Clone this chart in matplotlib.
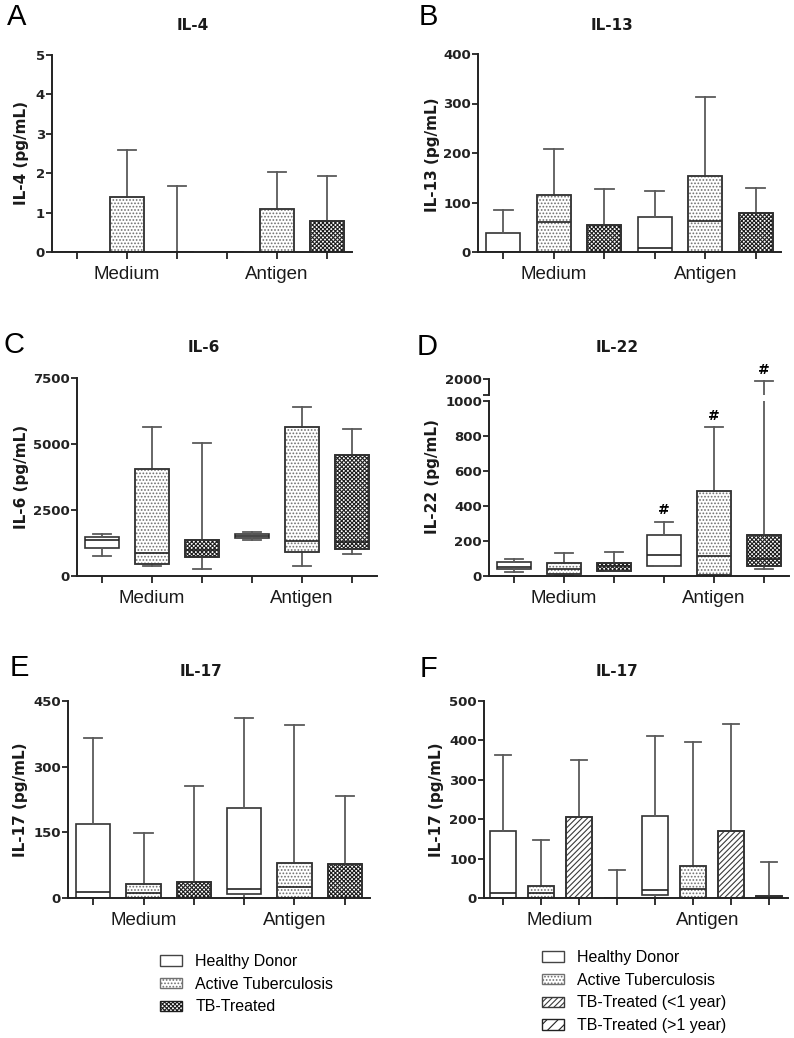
import numpy as np
import matplotlib
matplotlib.use("Agg")
import matplotlib.pyplot as plt
from matplotlib.patches import Patch, PathPatch

W, H = 794, 1038

conditions = ["Medium", "Antigen"]
groups = ["Healthy Donor", "Active Tuberculosis", "TB-Treated"]
groups_f = ["Healthy Donor", "Active Tuberculosis",
            "TB-Treated (<1 year)", "TB-Treated (>1 year)"]

# each row: min, q1, median, q3, max  (HD, ATB, TBT for Medium, then Antigen)
il4 = [[0, 0, 0, 0, 0], [0, 0, 0, 1.4, 2.58], [0, 0, 0, 0, 1.68],
       [0, 0, 0, 0, 0], [0, 0, 0, 1.1, 2.03], [0, 0, 0, 0.78, 1.93]]
il13 = [[0, 0, 0, 38, 84], [0, 0, 60, 115, 209], [0, 0, 0, 55, 128],
        [0, 0, 8, 71, 123], [0, 0, 63, 154, 313], [0, 0, 0, 78, 129]]
il6 = [[760, 1050, 1380, 1490, 1580], [380, 470, 885, 4070, 5650],
       [280, 720, 1000, 1370, 5050],
       [1380, 1450, 1530, 1600, 1680], [380, 910, 1320, 5630, 6410],
       [850, 1040, 1300, 4600, 5580]]
il22 = [[25, 38, 53, 82, 95], [4, 10, 42, 76, 129], [30, 30, 59, 76, 139],
        [57, 59, 118, 232, 311], [4, 6, 116, 486, 849],
        [42, 55, 100, 232, 1850]]
il22_sig = [False, False, False, True, True, True]
il17 = [[0, 0, 13, 168, 365], [0, 0, 11, 31, 148], [0, 0, 0, 36, 256],
        [0, 9, 21, 206, 411], [0, 0, 24, 81, 395], [0, 0, 0, 78, 233]]
il17_f = [[0, 0, 13, 170, 364], [0, 0, 12, 31, 148], [0, 0, 0, 205, 350],
          [0, 0, 0, 0, 71],
          [0, 8, 21, 207, 411], [0, 0, 24, 82, 396], [0, 0, 0, 170, 441],
          [0, 0, 3, 4, 92]]

# hatch, hatch colour for each group
HD = (None, "#444444")
ATB = (".....", "#707070")
TBT = ("xxxxxxxx", "#1e1e1e")
TBT1 = ("//////", "#3a3a3a")
TBT2 = ("///", "#222222")

plt.rcParams["font.family"] = "DejaVu Sans"
plt.rcParams["hatch.linewidth"] = 0.8

fig = plt.figure(figsize=(W / 100, H / 100), dpi=100)


def px(x):
    return x / W


def py(y):
    return 1 - y / H


def make_ax(l, t, r, b):
    return fig.add_axes([px(l), py(b), (r - l) / W, (b - t) / H])


def style(ax, yticks, ylim, n):
    ax.set_xlim(0.5, n + 0.5)
    ax.set_ylim(*ylim)
    ax.set_yticks(yticks)
    ax.set_xticks(np.arange(1, n + 1))
    ax.set_xticklabels([])
    for s in ["top", "right"]:
        ax.spines[s].set_visible(False)
    for s in ["left", "bottom"]:
        ax.spines[s].set_linewidth(1.4)
        ax.spines[s].set_color("#222222")
    ax.tick_params(width=1.3, color="#222222", labelsize=9.5)
    ax.tick_params(axis="x", length=5)
    ax.tick_params(axis="y", length=4, pad=1)
    for lab in ax.get_yticklabels():
        lab.set_fontweight("bold")
        lab.set_color("#222222")


def draw(ax, data, looks, width, capw):
    stats = [dict(whislo=s[0], q1=s[1], med=s[2], q3=s[3], whishi=s[4],
                  fliers=[]) for s in data]
    pos = np.arange(1, len(data) + 1)
    bp = ax.bxp(stats, positions=pos, widths=width, patch_artist=True,
                showfliers=False, capwidths=capw,
                boxprops=dict(facecolor="white", edgecolor="#333333", lw=1.2),
                whiskerprops=dict(color="#5a5a5a", lw=1.3),
                capprops=dict(color="#5a5a5a", lw=1.3),
                medianprops=dict(color="#222222", lw=1.2))
    for box, (h, hc) in zip(bp["boxes"], looks):
        if h:
            box.set_hatch(h)
            box.set_edgecolor(hc)
            ax.add_patch(PathPatch(box.get_path(), fill=False, ec="#333333",
                                   lw=1.2, zorder=box.get_zorder() + 0.1))
    return bp


def cond_labels(ax, xs):
    for c, x in zip(conditions, xs):
        ax.annotate(c, xy=(x, 0), xycoords=("data", "axes fraction"),
                    xytext=(0, -16), textcoords="offset points",
                    ha="center", va="center", fontsize=13.5,
                    family="Liberation Sans", color="#1a1a1a")


def headers(letter, lxy, title, txy, ylabel, yxy, ax):
    fig.text(px(lxy[0]), py(lxy[1]), letter, fontsize=21,
             family="Liberation Sans", ha="center", va="center")
    fig.text(px(txy[0]), py(txy[1]), title, fontsize=11, fontweight="bold",
             ha="center", va="center", color="#1a1a1a")
    ax.set_ylabel(ylabel, fontsize=11, fontweight="bold", va="center",
                  color="#1a1a1a")
    ax.yaxis.set_label_coords(px(yxy[0]), py(yxy[1]),
                              transform=fig.transFigure)


looks6 = [HD, ATB, TBT, HD, ATB, TBT]
looks8 = [HD, ATB, TBT1, TBT2, HD, ATB, TBT1, TBT2]

# A  IL-4
axA = make_ax(52, 55, 352, 252)
draw(axA, il4, looks6, 0.68, 0.37)
style(axA, np.arange(0, 6, 1), (0, 5), 6)
cond_labels(axA, [2, 5])
headers("A", (17, 17), "IL-4", (193, 26), "IL-4 (pg/mL)", (22, 153), axA)

# B  IL-13
axB = make_ax(478, 54, 781, 252)
draw(axB, il13, looks6, 0.68, 0.37)
style(axB, np.arange(0, 401, 100), (0, 400), 6)
cond_labels(axB, [2, 5])
headers("B", (428, 17), "IL-13", (612, 26), "IL-13 (pg/mL)", (432, 155), axB)

# C  IL-6
axC = make_ax(77, 378, 377, 576)
draw(axC, il6, looks6, 0.68, 0.37)
style(axC, [0, 2500, 5000, 7500], (0, 7500), 6)
cond_labels(axC, [2, 5])
headers("C", (14, 345), "IL-6", (204, 348), "IL-6 (pg/mL)", (22, 477), axC)

# D  IL-22 with broken axis
axD = make_ax(489, 401, 789, 576)
axDt = make_ax(489, 379, 789, 395)
draw(axD, il22, looks6, 0.68, 0.37)
draw(axDt, il22, looks6, 0.68, 0.37)
style(axD, np.arange(0, 1001, 200), (0, 1000), 6)
style(axDt, [1000, 2000], (1000, 2000), 6)
axDt.set_yticklabels(["", "2000"])
axDt.spines["bottom"].set_visible(False)
axDt.tick_params(axis="x", length=0)
for i, (s, sig) in enumerate(zip(il22, il22_sig)):
    if sig:
        a = axDt if s[4] > 1000 else axD
        a.annotate("#", xy=(i + 1, s[4]), xytext=(0, 8),
                   textcoords="offset points", ha="center", va="center",
                   fontsize=10, fontweight="bold", annotation_clip=False)
cond_labels(axD, [2, 5])
headers("D", (427, 347), "IL-22", (617, 348), "IL-22 (pg/mL)", (433, 477), axD)

# E  IL-17
axE = make_ax(68, 701, 370, 898)
draw(axE, il17, looks6, 0.68, 0.37)
style(axE, [0, 150, 300, 450], (0, 450), 6)
cond_labels(axE, [2, 5])
headers("E", (19, 668), "IL-17", (201, 672), "IL-17 (pg/mL)", (21, 800), axE)

# F  IL-17 split by treatment time
axF = make_ax(484, 701, 788, 898)
draw(axF, il17_f, looks8, 0.67, 0.4)
style(axF, np.arange(0, 501, 100), (0, 500), 8)
cond_labels(axF, [2.5, 6.4])
headers("F", (428, 669), "IL-17", (617, 672), "IL-17 (pg/mL)", (436, 800), axF)


def legend(names, looks, x, y):
    handles = [Patch(facecolor="white", edgecolor=hc, hatch=h, lw=1.0)
               for h, hc in looks]
    fig.legend(handles, names, loc="upper left",
               bbox_to_anchor=(px(x), py(y)), frameon=False,
               borderpad=0, borderaxespad=0, handlelength=1.4,
               handleheight=0.62, handletextpad=0.8, labelspacing=0.48,
               prop=dict(family="Liberation Sans", size=11.5))


legend(groups, [HD, ATB, TBT], 160, 954)
legend(groups_f, [HD, ATB, TBT1, TBT2], 542, 950)

fig.savefig("out.png", dpi=100)
